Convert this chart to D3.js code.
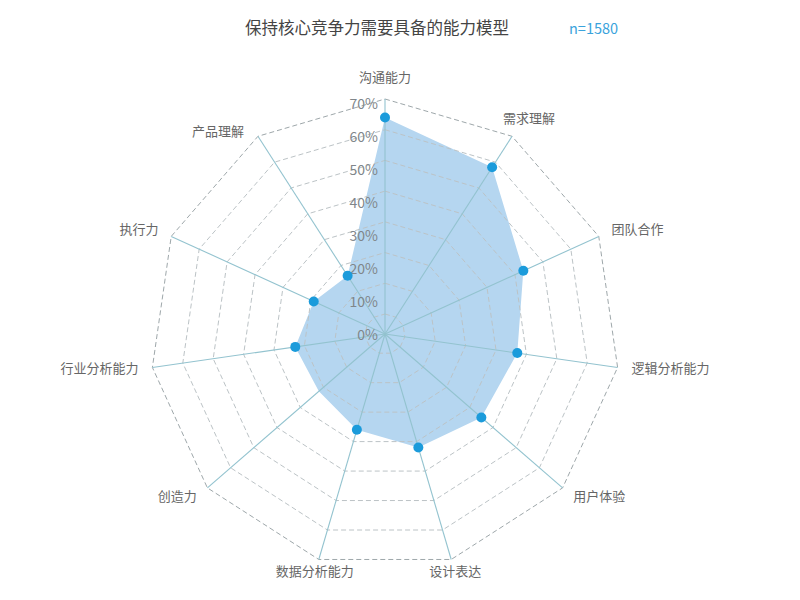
<!DOCTYPE html>
<html>
<head>
<meta charset="utf-8">
<script src="https://cdn.jsdelivr.net/npm/d3@7"></script>
<style>
  body { margin: 0; background: #fff; }
  text { font-family: "Noto Sans CJK SC", "Noto Sans", sans-serif; }
</style>
</head>
<body>
<div id="chart"></div>
<script>
// Data
const abilities = ["沟通能力", "需求理解", "团队合作", "逻辑分析能力", "用户体验", "设计表达",
                   "数据分析能力", "创造力", "行业分析能力", "执行力", "产品理解"];
const shares = [64, 58, 43, 37, 35, 32, 26, 22, 23, 19, 16];
const showDot = [true, true, true, true, true, true, true, false, true, true, true];
const tickValues = [0, 10, 20, 30, 40, 50, 60, 70];
const titleText = "保持核心竞争力需要具备的能力模型";
const sampleText = "n=1580";

// Chart dimentions
let dimentions = {
    width: 800,
    height: 600,
    cx: 385,
    cy: 334
}

const svg = d3.select('#chart')
    .append('svg')
    .attr('width', dimentions.width)
    .attr('height', dimentions.height)

const container = svg.append('g')
    .attr('transform', `translate(${dimentions.cx}, ${dimentions.cy})`)

// Scales: one angle per axis, radius for the share
const step = 2 * Math.PI / abilities.length;
function angleOf(i) { return i * step; }

const radiusScale = d3.scaleLinear().domain([0, 70]).range([20, 235]);
// the % labels sit on a slightly wider spacing than the rings
const tickLabelScale = d3.scaleLinear().domain([0, 70]).range([-2, 229]);

function point(i, r) {
    const a = angleOf(i);
    return [r * Math.sin(a), -r * Math.cos(a)];
}

// filled area first, the grid is drawn over it
const area = d3.line()
    .x(function(d, i) { return point(i, radiusScale(d))[0]; })
    .y(function(d, i) { return point(i, radiusScale(d))[1]; })
    .curve(d3.curveLinearClosed);

container.append('path')
    .datum(shares)
    .attr('d', area)
    .attr('fill', '#b5d6f0');

// rings
container.selectAll('.ring')
    .data(tickValues)
    .enter()
    .append('path')
    .attr('class', 'ring')
    .attr('d', function(t) {
        return d3.line().curve(d3.curveLinearClosed)(abilities.map(function(a, i) { return point(i, radiusScale(t)); }));
    })
    .attr('fill', 'none')
    .attr('stroke', function(t) { return t === 70 ? '#9ea7aa' : '#bcc3c6'; })
    .attr('stroke-width', 1)
    .attr('stroke-dasharray', '5,3');

// axes
container.selectAll('.axis')
    .data(abilities)
    .enter()
    .append('line')
    .attr('class', 'axis')
    .attr('x1', 0)
    .attr('y1', 0)
    .attr('x2', function(d, i) { return point(i, radiusScale(70))[0]; })
    .attr('y2', function(d, i) { return point(i, radiusScale(70))[1]; })
    .attr('stroke', '#93c3cf')
    .attr('stroke-width', 1.1);

// percentage labels along the top axis
container.selectAll('.tick')
    .data(tickValues)
    .enter()
    .append('text')
    .attr('class', 'tick')
    .attr('x', -7)
    .attr('y', function(t) { return -tickLabelScale(t); })
    .attr('text-anchor', 'end')
    .attr('dominant-baseline', 'middle')
    .attr('font-size', 14)
    .attr('fill', '#80868a')
    .text(function(t) { return t + '%'; });

// dots (no marker on 创造力 in the original)
const dotData = shares.map(function(d, i) { return { value: d, index: i }; })
    .filter(function(d) { return showDot[d.index]; });

container.selectAll('.dot')
    .data(dotData)
    .enter()
    .append('circle')
    .attr('class', 'dot')
    .attr('cx', function(d) { return point(d.index, radiusScale(d.value))[0]; })
    .attr('cy', function(d) { return point(d.index, radiusScale(d.value))[1]; })
    .attr('r', 5)
    .attr('fill', '#1b9bdb');

// axis names outside the outer ring
const labelGap = 14;
container.selectAll('.name')
    .data(abilities)
    .enter()
    .append('text')
    .attr('class', 'name')
    .each(function(d, i) {
        const a = angleOf(i);
        const s = Math.sin(a), c = Math.cos(a);
        let p = point(i, radiusScale(70) + labelGap);
        let anchor = s > 0.3 ? 'start' : (s < -0.3 ? 'end' : 'middle');
        // upper diagonals sit above their corners
        if (c > 0.6 && s > 0.3) { p = point(i, radiusScale(70)); p[0] += 17; p[1] -= 17; anchor = 'middle'; }
        if (c > 0.6 && s < -0.3) { p = point(i, radiusScale(70)); p[0] -= 14; p[1] -= 4; anchor = 'end'; }
        if (Math.abs(s) < 0.3 && c > 0) { p = point(i, radiusScale(70) + 21); }
        d3.select(this)
            .attr('x', p[0])
            .attr('y', p[1])
            .attr('text-anchor', anchor)
            .attr('dominant-baseline', 'middle');
    })
    .attr('font-size', 13)
    .attr('fill', '#666')
    .text(function(d) { return d; });

// title and sample size
svg.append('text')
    .attr('x', 377)
    .attr('y', 30)
    .attr('text-anchor', 'middle')
    .attr('dominant-baseline', 'middle')
    .attr('font-size', 16.5)
    .attr('fill', '#444')
    .text(titleText);

svg.append('text')
    .attr('x', 569)
    .attr('y', 30)
    .attr('dominant-baseline', 'middle')
    .attr('font-size', 14.5)
    .attr('fill', '#3aa3dc')
    .text(sampleText);
</script>
</body>
</html>
